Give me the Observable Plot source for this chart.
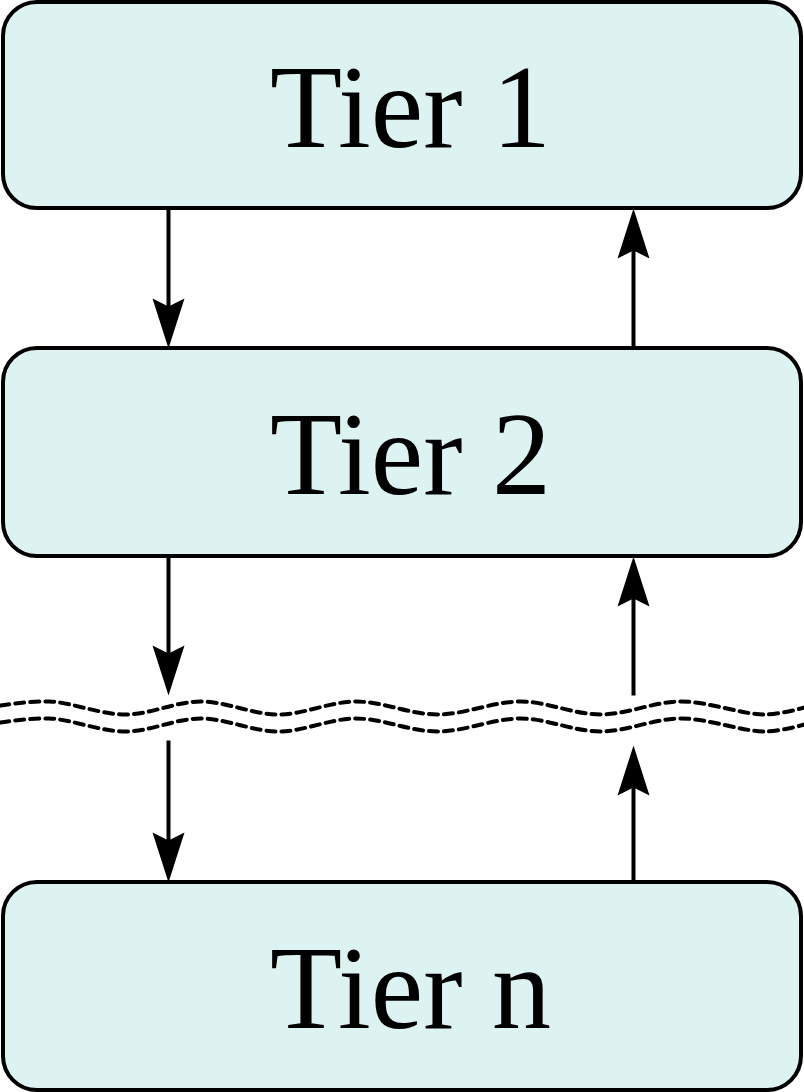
<!DOCTYPE html>
<html><head><meta charset="utf-8">
<script src="https://cdn.jsdelivr.net/npm/d3@7"></script>
<script src="https://cdn.jsdelivr.net/npm/@observablehq/plot@0.6"></script>
<style>body{margin:0;background:#fff}</style>
</head><body><div id="plot-region"></div>
<script>
const tiers = ["Tier 1", "Tier 2", "Tier n"];
const tierTop = [2, 348, 882];
const tierBottom = [208, 556, 1090];

// shafts: [x, y1, y2]; heads: [x, tipY, direction]
const shafts = [
  [168, 208, 320], [168, 556, 668], [168, 740, 855],
  [633, 348, 236], [633, 695, 584], [633, 882, 773]
];
const heads = [
  [168, 348, "down"], [168, 695, "down"], [168, 882, "down"],
  [633, 208, "up"], [633, 556, "up"], [633, 745, "up"]
];

// wave crest / trough points (x, y) of the upper break line
const waveX = [0, 49, 125, 200, 278, 355, 437, 520, 600, 680, 765, 804];
const waveY = [705, 701, 714, 701, 714, 701, 714, 701, 714, 701, 714, 707];
const waveOffset = [0, 17];

const arrowHead = {
  draw(context) {
    context.moveTo(0, 0);
    context.lineTo(-16, 50);
    context.lineTo(0, 42);
    context.lineTo(16, 50);
    context.closePath();
  }
};

const boxes = tiers.map((t, i) => ({ label: t, y1: tierTop[i], y2: tierBottom[i] }));
const waves = waveOffset.flatMap((o, k) => waveX.map((x, i) => ({ x, y: waveY[i] + o, k })));

const chart = Plot.plot({
  width: 804, height: 1092,
  margin: 0,
  x: { domain: [0, 804], axis: null },
  y: { domain: [0, 1092], reverse: true, axis: null },
  marks: [
    Plot.rect(boxes, { x1: 3, x2: 801, y1: "y1", y2: "y2", rx: 34, fill: "#dcf3f1", stroke: "black", strokeWidth: 4 }),
    Plot.text(boxes, { x: 410, y: d => (d.y1 + d.y2) / 2 + 4, text: "label", fontFamily: "Liberation Serif", fontSize: 118, fill: "black" }),
    Plot.link(shafts, { x1: d => d[0], x2: d => d[0], y1: d => d[1], y2: d => d[2], stroke: "black", strokeWidth: 4 }),
    Plot.dot(heads, { x: d => d[0], y: d => d[1], symbol: arrowHead, r: 10, fill: "black", stroke: null, rotate: d => d[2] === "down" ? 180 : 0 }),
    Plot.line(waves, { x: "x", y: "y", z: "k", curve: "catmull-rom", stroke: "black", strokeWidth: 4, strokeDasharray: "9,6" })
  ]
});
document.getElementById("plot-region").append(chart);
</script>
</body></html>
